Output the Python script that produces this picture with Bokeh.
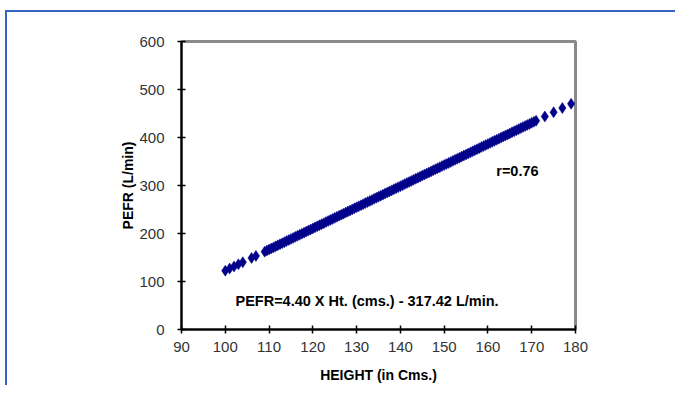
from bokeh.plotting import figure
from bokeh.models import Range1d, FixedTicker, Label
from bokeh.embed import file_html
from bokeh.resources import INLINE

# Data (points lie on the fitted line; dense band 109-171 cm)
height_cm = [100, 101, 102, 103, 104, 106, 107,
             109, 109.5, 110, 110.5, 111, 111.5, 112, 112.5, 113, 113.5, 114, 114.5, 115, 115.5,
             116, 116.5, 117, 117.5, 118, 118.5, 119, 119.5, 120, 120.5, 121, 121.5, 122, 122.5,
             123, 123.5, 124, 124.5, 125, 125.5, 126, 126.5, 127, 127.5, 128, 128.5, 129, 129.5,
             130, 130.5, 131, 131.5, 132, 132.5, 133, 133.5, 134, 134.5, 135, 135.5, 136, 136.5,
             137, 137.5, 138, 138.5, 139, 139.5, 140, 140.5, 141, 141.5, 142, 142.5, 143, 143.5,
             144, 144.5, 145, 145.5, 146, 146.5, 147, 147.5, 148, 148.5, 149, 149.5, 150, 150.5,
             151, 151.5, 152, 152.5, 153, 153.5, 154, 154.5, 155, 155.5, 156, 156.5, 157, 157.5,
             158, 158.5, 159, 159.5, 160, 160.5, 161, 161.5, 162, 162.5, 163, 163.5, 164, 164.5,
             165, 165.5, 166, 166.5, 167, 167.5, 168, 168.5, 169, 169.5, 170, 170.5, 171,
             173, 175, 177, 179]
pefr = [122.58, 126.98, 131.38, 135.78, 140.18, 148.98, 153.38,
        162.18, 164.38, 166.58, 168.78, 170.98, 173.18, 175.38, 177.58, 179.78, 181.98, 184.18, 186.38,
        188.58, 190.78, 192.98, 195.18, 197.38, 199.58, 201.78, 203.98, 206.18, 208.38, 210.58, 212.78,
        214.98, 217.18, 219.38, 221.58, 223.78, 225.98, 228.18, 230.38, 232.58, 234.78, 236.98, 239.18,
        241.38, 243.58, 245.78, 247.98, 250.18, 252.38, 254.58, 256.78, 258.98, 261.18, 263.38, 265.58,
        267.78, 269.98, 272.18, 274.38, 276.58, 278.78, 280.98, 283.18, 285.38, 287.58, 289.78, 291.98,
        294.18, 296.38, 298.58, 300.78, 302.98, 305.18, 307.38, 309.58, 311.78, 313.98, 316.18, 318.38,
        320.58, 322.78, 324.98, 327.18, 329.38, 331.58, 333.78, 335.98, 338.18, 340.38, 342.58, 344.78,
        346.98, 349.18, 351.38, 353.58, 355.78, 357.98, 360.18, 362.38, 364.58, 366.78, 368.98, 371.18,
        373.38, 375.58, 377.78, 379.98, 382.18, 384.38, 386.58, 388.78, 390.98, 393.18, 395.38, 397.58,
        399.78, 401.98, 404.18, 406.38, 408.58, 410.78, 412.98, 415.18, 417.38, 419.58, 421.78, 423.98,
        426.18, 428.38, 430.58, 432.78, 434.98,
        443.78, 452.58, 461.38, 470.18]
x_ticks = [90, 100, 110, 120, 130, 140, 150, 160, 170, 180]
y_ticks = [0, 100, 200, 300, 400, 500, 600]
equation_text = "PEFR=4.40 X Ht. (cms.) - 317.42 L/min."
r_text = "r=0.76"
x_title = "HEIGHT (in Cms.)"
y_title = "PEFR (L/min)"

W, H = 675, 385
p = figure(width=W, height=H, output_backend="svg", toolbar_location=None,
           x_range=Range1d(90, 180), y_range=Range1d(0, 600),
           min_border_left=181, min_border_right=W - 575,
           min_border_top=41, min_border_bottom=H - 331)

blue = "#3563c4"
p.styles = {
    "background-color": "white",
    "background-image": f"linear-gradient({blue},{blue}), linear-gradient({blue},{blue})",
    "background-size": "100% 2px, 2px 100%",
    "background-position": "5px 10px, 5px 10px",
    "background-repeat": "no-repeat",
}

p.background_fill_color = "white"
p.border_fill_color = None
p.outline_line_color = "#8a8a8a"
p.outline_line_width = 3
p.xgrid.visible = False
p.ygrid.visible = False

for ax in (p.xaxis[0], p.yaxis[0]):
    ax.axis_line_color = "black"
    ax.axis_line_width = 2
    ax.major_tick_line_color = "black"
    ax.major_tick_line_width = 1.5
    ax.major_tick_in = 4
    ax.major_tick_out = 4
    ax.minor_tick_line_color = None
    ax.major_label_text_font = "Liberation Sans"
    ax.major_label_text_font_size = "15px"
    ax.major_label_text_color = "#333333"
    ax.axis_label_text_font = "Liberation Sans"
    ax.axis_label_text_font_style = "bold"
    ax.axis_label_text_color = "black"

p.xaxis.ticker = FixedTicker(ticks=x_ticks)
p.yaxis.ticker = FixedTicker(ticks=y_ticks)
p.xaxis.major_label_standoff = 8
p.yaxis.major_label_standoff = 13

p.yaxis.axis_label = y_title
p.yaxis.axis_label_text_font_size = "14px"
p.yaxis.axis_label_standoff = 0

p.xaxis.axis_label = x_title
p.xaxis.axis_label_text_font_size = "14px"
p.xaxis.axis_label_standoff = 12

p.scatter(height_cm, pefr, marker="diamond", size=11, fill_color="#00008b",
          line_color="#00008b", line_width=0.5)

lab_font = "Liberation Sans"
p.add_layout(Label(x=102.33, y=59, text=equation_text, text_font=lab_font,
                   text_font_style="bold", text_font_size="14.5px", text_color="black",
                   text_baseline="middle"))
p.add_layout(Label(x=161.9, y=330, text=r_text, text_font=lab_font,
                   text_font_style="bold", text_font_size="14.5px", text_color="black",
                   text_baseline="middle"))

open("out.html", "w").write(file_html(p, INLINE))
